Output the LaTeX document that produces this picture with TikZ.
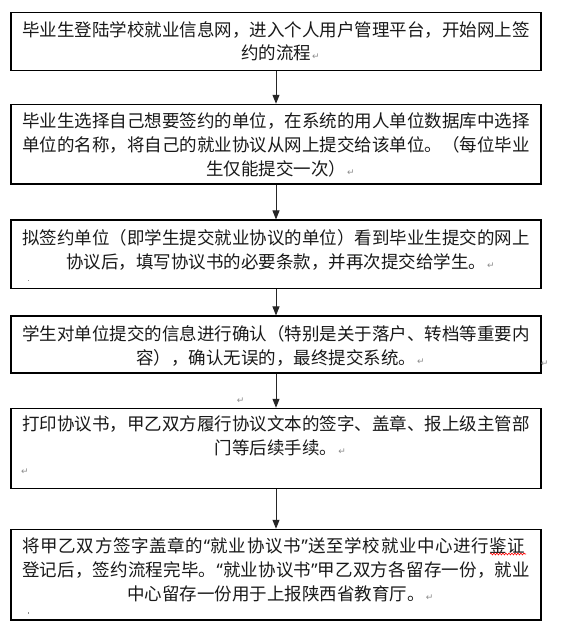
\documentclass[tikz,border=0pt]{standalone}
\usepackage{fontspec}
\newfontfamily\cjk{Noto Sans CJK SC}
\newfontfamily\symf{DejaVu Sans}
\newfontfamily\latq{Noto Sans}
\usetikzlibrary{arrows.meta,decorations.pathmorphing}
\ExplSyntaxOn
\NewDocumentCommand\fl{O{508}m}
  {\makebox[#1pt][s]{\tl_map_inline:nn{#2}{##1\hfil}\unskip}}
\ExplSyntaxOff
\newcommand{\retmark}{\textcolor{black!45}{\symf\fontsize{9}{9}\selectfont ↵}}
\newcommand{\pmk}{\rlap{\hspace{1pt}\retmark}}
\newcommand{\qo}{{\latq “}}
\newcommand{\qc}{{\latq ”}}
\tikzset{
  box/.style={draw, line width=1.1pt, minimum width=530pt, inner sep=0pt},
  txt/.style={anchor=base, align=center, inner sep=0pt,
              font=\cjk\fontsize{17.5}{24}\selectfont, text=black!90},
  arr/.style={line width=0.9pt, draw=black!85,
              -{Triangle[length=9pt,width=7pt]}},
  retnode/.style={inner sep=0pt, text=black!45,
                  font=\symf\fontsize{9}{9}\selectfont},
  dotmk/.style={fill=black!45, draw=none}
}
\begin{document}
\begin{tikzpicture}[x=1pt,y=-1pt]
\path[use as bounding box, fill=white] (0,0) rectangle (572,634);

% boxes
\node[box, minimum height=58pt]   (b1) at (276,41.3)   {};
\node[box, minimum height=79.7pt] (b2) at (276,144.15) {};
\node[box, minimum height=68.3pt] (b3) at (276,254.15) {};
\node[box, minimum height=57pt]   (b4) at (276,344.5)  {};
\node[box, minimum height=80pt]   (b5) at (276,448.3)  {};
\node[box, minimum height=90.7pt] (b6) at (276,574.65) {};

% texts (anchor base = baseline of the last line)
\node[txt, font=\cjk\fontsize{17.5}{23}\selectfont] (t1) at (276,59.6)
  {\fl{毕业生登陆学校就业信息网，进入个人用户管理平台，开始网上签}\\
  约的流程\pmk};
\node[txt] (t2) at (276,175.6)
  {\fl{毕业生选择自己想要签约的单位，在系统的用人单位数据库中选择}\\
  \fl{单位的名称，将自己的就业协议从网上提交给该单位。（每位毕业}\\
  生仅能提交一次）\pmk};
\node[txt] (t3) at (276,268.6)
  {\fl{拟签约单位（即学生提交就业协议的单位）看到毕业生提交的网上}\\
  协议后，填写协议书的必要条款，并再次提交给学生。\pmk};
\node[txt] (t4) at (276,364.1)
  {\fl{学生对单位提交的信息进行确认（特别是关于落户、转档等重要内}\\
  容），确认无误的，最终提交系统。\pmk};
\node[txt] (t5) at (276,454.6)
  {\fl{打印协议书，甲乙双方履行协议文本的签字、盖章、报上级主管部}\\
  门等后续手续。\pmk};
\node[txt] (t6) at (276,600.6)
  {\hspace*{-4pt}\fl[503]{将甲乙双方签字盖章的\qo 就业协议书\qc 送至学校就业中心进行鉴证}\\
  \fl{登记后，签约流程完毕。\qo 就业协议书\qc 甲乙双方各留存一份，就业}\\
  中心留存一份用于上报陕西省教育厅。\pmk};

% connectors
\draw[arr] (b1.south) -- (b2.north);
\draw[arr] (b2.south) -- (b3.north);
\draw[arr] (b3.south) -- (b4.north);
\draw[arr] (b4.south) -- (b5.north);
\draw[arr] (b5.south) -- (b6.north);

% stray paragraph marks
\node[retnode] (r1) at (544.6,364) {↵};
\node[retnode] (r2) at (240.7,400.7) {↵};
\node[retnode] (r3) at (25,471.7) {↵};
\fill[dotmk] (27.6,280) rectangle (28.4,281.4);
\fill[dotmk] (27.6,612.3) rectangle (28.4,613.7);

% spell-check wavy underline
\draw[red, line width=0.6pt, decorate,
      decoration={snake, amplitude=0.9pt, segment length=3pt}]
  (490,554) -- (526,554);
\end{tikzpicture}
\end{document}
